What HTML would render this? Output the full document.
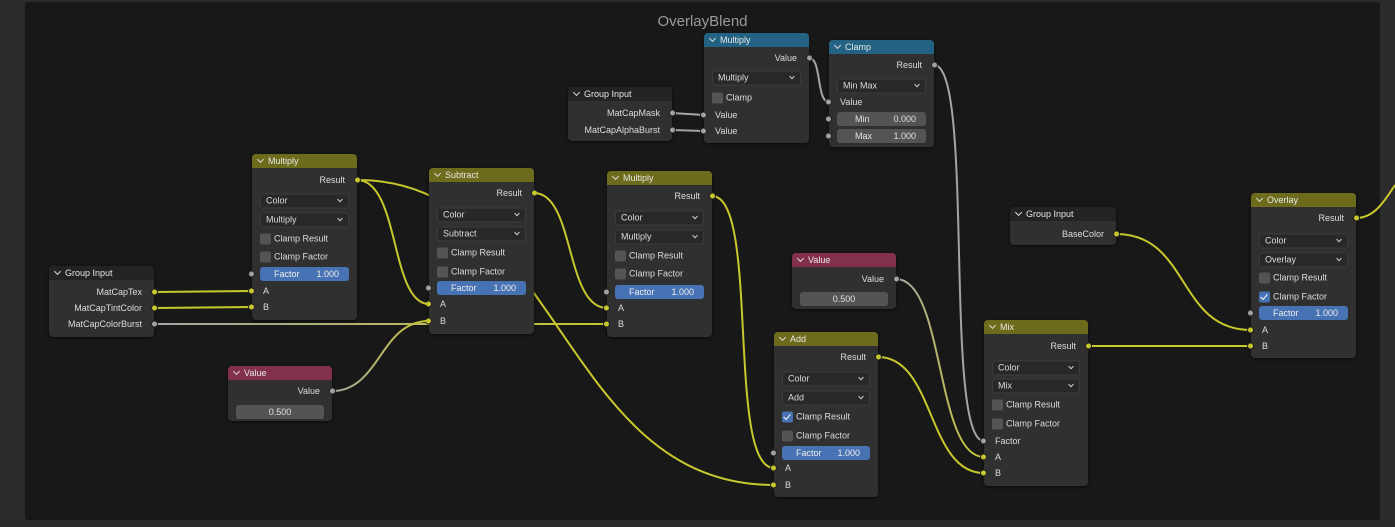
<!DOCTYPE html>
<html><head><meta charset="utf-8"><style>
*{box-sizing:border-box;margin:0;padding:0}
body{width:1395px;height:527px;background:#2b2b2b;position:relative;overflow:hidden;font-family:"Liberation Sans",sans-serif;font-size:9px;color:#dcdcdc}
#frame{position:absolute;left:25px;top:2px;width:1355px;height:518px;background:#181818;border-radius:3px}
#title{position:absolute;left:0;width:1405px;top:13px;text-align:center;font-size:15px;color:#9a9a9a}
svg{position:absolute;left:0;top:0}
.n{position:absolute;background:#303030;border-radius:4px;box-shadow:0 1px 3px rgba(0,0,0,.6)}
.h{height:14px;border-radius:4px 4px 0 0;line-height:14px;padding-left:16px;color:#e8e8e8;position:relative}
.h:before{content:"";position:absolute;left:6px;top:3px;width:4px;height:4px;border-right:1px solid #ddd;border-bottom:1px solid #ddd;transform:rotate(45deg)}
.y{background:#6d6b1c}.b{background:#246283}.rd{background:#83314a}.g{background:#232323}
.r{position:absolute;right:12px;transform:translateY(-50%);white-space:nowrap}
.l{position:absolute;left:11px;transform:translateY(-50%);white-space:nowrap}
.d{position:absolute;left:8px;right:8px;height:15px;transform:translateY(-50%);background:#282828;border:1px solid #3c3c3c;border-radius:3px;padding-left:5px;line-height:13px}
.d:after{content:"";position:absolute;right:6px;top:3px;width:3px;height:3px;border-right:1px solid #ccc;border-bottom:1px solid #ccc;transform:rotate(45deg)}
.c{position:absolute;left:8px;transform:translateY(-50%);padding-left:14px;line-height:11px;white-space:nowrap}
.c:before{content:"";position:absolute;left:0;top:0;width:11px;height:11px;background:#545454;border-radius:2px}
.c.k:before{background:#4772b3}
.c.k:after{content:"";position:absolute;left:3px;top:1px;width:3px;height:6px;border-right:1.5px solid #fff;border-bottom:1.5px solid #fff;transform:rotate(40deg)}
.f{position:absolute;left:8px;right:8px;height:14px;transform:translateY(-50%);background:#4772b3;border-radius:3px;line-height:14px;padding:0 10px 0 14px;color:#eee}
.f span{float:right}
.v{position:absolute;left:8px;right:8px;height:14px;transform:translateY(-50%);background:#545454;border-radius:3px;line-height:14px;text-align:center;color:#e0e0e0}
.v2{text-align:left;padding:0 10px 0 18px}.v2 span{float:right}
.s{position:absolute;width:7px;height:7px;border-radius:50%;transform:translateY(-50%);background:#c7c72e;border:1px solid #222}
.s.gr{background:#a1a1a1}
.sl{left:-4px}.sr{right:-4px}
</style></head><body>
<div id="frame"></div>
<div id="title">OverlayBlend</div>
<svg width="1395" height="527">
<defs>
<linearGradient id="g1" gradientUnits="userSpaceOnUse" x1="154" y1="0" x2="607" y2="0"><stop offset="0" stop-color="#a4a4a4"/><stop offset="1" stop-color="#c7c72e"/></linearGradient>
<linearGradient id="g2" gradientUnits="userSpaceOnUse" x1="332" y1="0" x2="429" y2="0"><stop offset="0" stop-color="#a4a4a4"/><stop offset="1" stop-color="#c7c72e"/></linearGradient>
<linearGradient id="g3" gradientUnits="userSpaceOnUse" x1="896" y1="0" x2="984" y2="0"><stop offset="0" stop-color="#a4a4a4"/><stop offset="1" stop-color="#c7c72e"/></linearGradient>
</defs>
<g fill="none" stroke-width="2">
<path d="M154 324 L607 324" stroke="url(#g1)"/>
<path d="M357 180 C420 180,480 195,600 230 C700 260,400 330,430 300" stroke="none"/>
<path d="M357 180 C560 180,560 485,774 485" stroke="#c7c72e"/>
</g>
</svg>
<div class="n" style="left:429px;top:168px;width:105px;height:166px"><div class="h y">Subtract</div><div class="r" style="top:25px">Result</div><div class="s sr" style="top:25px"></div><div class="d" style="top:47px">Color</div><div class="d" style="top:66px">Subtract</div><div class="c" style="top:85px">Clamp Result</div><div class="c" style="top:104px">Clamp Factor</div><div class="f" style="top:120px">Factor<span>1.000</span></div><div class="s sl gr" style="top:120px"></div><div class="l" style="top:136px">A</div><div class="s sl" style="top:136px"></div><div class="l" style="top:153px">B</div><div class="s sl" style="top:153px"></div></div>
<svg width="1395" height="527"><g fill="none" stroke-width="2">
<path d="M357 180 C400 180,390 304,429 304" stroke="#c7c72e"/>
<path d="M332 391 C380 391,380 321,429 321" stroke="url(#g2)"/>
<path d="M154 292 L252 291" stroke="#c7c72e"/>
<path d="M154 308 L252 307" stroke="#c7c72e"/>
<path d="M534 193 C575 193,565 308,607 308" stroke="#c7c72e"/>
<path d="M712 196 C760 196,726 468,774 468" stroke="#c7c72e"/>
<path d="M672 113 L704 115" stroke="#a4a4a4"/>
<path d="M672 130 L704 131" stroke="#a4a4a4"/>
<path d="M809 58 C822 58,816 102,829 102" stroke="#a4a4a4"/>
<path d="M934 65 C975 65,943 441,984 441" stroke="#a4a4a4"/>
<path d="M896 279 C945 279,935 457,984 457" stroke="url(#g3)"/>
<path d="M878 357 C935 357,927 473,984 473" stroke="#c7c72e"/>
<path d="M1088 346 L1251 346" stroke="#c7c72e"/>
<path d="M1116 234 C1190 234,1177 330,1251 330" stroke="#c7c72e"/>
<path d="M1356 218 C1375 218,1385 200,1395 185" stroke="#c7c72e"/>
</g></svg>

<div class="n" style="left:252px;top:154px;width:105px;height:166px"><div class="h y">Multiply</div><div class="r" style="top:26px">Result</div><div class="s sr" style="top:26px"></div><div class="d" style="top:47px">Color</div><div class="d" style="top:66px">Multiply</div><div class="c" style="top:85px">Clamp Result</div><div class="c" style="top:103px">Clamp Factor</div><div class="f" style="top:120px">Factor<span>1.000</span></div><div class="s sl gr" style="top:120px"></div><div class="l" style="top:137px">A</div><div class="s sl" style="top:137px"></div><div class="l" style="top:153px">B</div><div class="s sl" style="top:153px"></div></div>

<div class="n" style="left:607px;top:171px;width:105px;height:166px"><div class="h y">Multiply</div><div class="r" style="top:25px">Result</div><div class="s sr" style="top:25px"></div><div class="d" style="top:47px">Color</div><div class="d" style="top:66px">Multiply</div><div class="c" style="top:85px">Clamp Result</div><div class="c" style="top:103px">Clamp Factor</div><div class="f" style="top:121px">Factor<span>1.000</span></div><div class="s sl gr" style="top:121px"></div><div class="l" style="top:137px">A</div><div class="s sl" style="top:137px"></div><div class="l" style="top:153px">B</div><div class="s sl" style="top:153px"></div></div>

<div class="n" style="left:774px;top:332px;width:104px;height:165px"><div class="h y">Add</div><div class="r" style="top:25px">Result</div><div class="s sr" style="top:25px"></div><div class="d" style="top:47px">Color</div><div class="d" style="top:66px">Add</div><div class="c k" style="top:85px">Clamp Result</div><div class="c" style="top:104px">Clamp Factor</div><div class="f" style="top:121px">Factor<span>1.000</span></div><div class="s sl gr" style="top:121px"></div><div class="l" style="top:136px">A</div><div class="s sl" style="top:136px"></div><div class="l" style="top:153px">B</div><div class="s sl" style="top:153px"></div></div>

<div class="n" style="left:984px;top:320px;width:104px;height:166px"><div class="h y">Mix</div><div class="r" style="top:26px">Result</div><div class="s sr" style="top:26px"></div><div class="d" style="top:48px">Color</div><div class="d" style="top:66px">Mix</div><div class="c" style="top:85px">Clamp Result</div><div class="c" style="top:104px">Clamp Factor</div><div class="l" style="top:121px">Factor</div><div class="s sl gr" style="top:121px"></div><div class="l" style="top:137px">A</div><div class="s sl" style="top:137px"></div><div class="l" style="top:153px">B</div><div class="s sl" style="top:153px"></div></div>

<div class="n" style="left:1251px;top:193px;width:105px;height:165px"><div class="h y">Overlay</div><div class="r" style="top:25px">Result</div><div class="s sr" style="top:25px"></div><div class="d" style="top:48px">Color</div><div class="d" style="top:67px">Overlay</div><div class="c" style="top:85px">Clamp Result</div><div class="c k" style="top:104px">Clamp Factor</div><div class="f" style="top:120px">Factor<span>1.000</span></div><div class="s sl gr" style="top:120px"></div><div class="l" style="top:137px">A</div><div class="s sl" style="top:137px"></div><div class="l" style="top:153px">B</div><div class="s sl" style="top:153px"></div></div>

<div class="n" style="left:49px;top:266px;width:105px;height:71px"><div class="h g">Group Input</div><div class="r" style="top:26px">MatCapTex</div><div class="s sr" style="top:26px"></div><div class="r" style="top:42px">MatCapTintColor</div><div class="s sr" style="top:42px"></div><div class="r" style="top:58px">MatCapColorBurst</div><div class="s sr gr" style="top:58px"></div></div>

<div class="n" style="left:568px;top:87px;width:104px;height:54px"><div class="h g">Group Input</div><div class="r" style="top:26px">MatCapMask</div><div class="s sr gr" style="top:26px"></div><div class="r" style="top:43px">MatCapAlphaBurst</div><div class="s sr gr" style="top:43px"></div></div>

<div class="n" style="left:1010px;top:207px;width:106px;height:38px"><div class="h g">Group Input</div><div class="r" style="top:27px">BaseColor</div><div class="s sr" style="top:27px"></div></div>

<div class="n" style="left:228px;top:366px;width:104px;height:55px"><div class="h rd">Value</div><div class="r" style="top:25px">Value</div><div class="s sr gr" style="top:25px"></div><div class="v" style="top:46px">0.500</div></div>

<div class="n" style="left:792px;top:253px;width:104px;height:56px"><div class="h rd">Value</div><div class="r" style="top:26px">Value</div><div class="s sr gr" style="top:26px"></div><div class="v" style="top:46px">0.500</div></div>

<div class="n" style="left:704px;top:33px;width:105px;height:110px"><div class="h b">Multiply</div><div class="r" style="top:25px">Value</div><div class="s sr gr" style="top:25px"></div><div class="d" style="top:45px">Multiply</div><div class="c" style="top:65px">Clamp</div><div class="l" style="top:82px">Value</div><div class="s sl gr" style="top:82px"></div><div class="l" style="top:98px">Value</div><div class="s sl gr" style="top:98px"></div></div>

<div class="n" style="left:829px;top:40px;width:105px;height:107px"><div class="h b">Clamp</div><div class="r" style="top:25px">Result</div><div class="s sr gr" style="top:25px"></div><div class="d" style="top:46px">Min Max</div><div class="l" style="top:62px">Value</div><div class="s sl gr" style="top:62px"></div><div class="v v2" style="top:79px">Min<span>0.000</span></div><div class="s sl gr" style="top:79px"></div><div class="v v2" style="top:96px">Max<span>1.000</span></div><div class="s sl gr" style="top:96px"></div></div>
</body></html>
